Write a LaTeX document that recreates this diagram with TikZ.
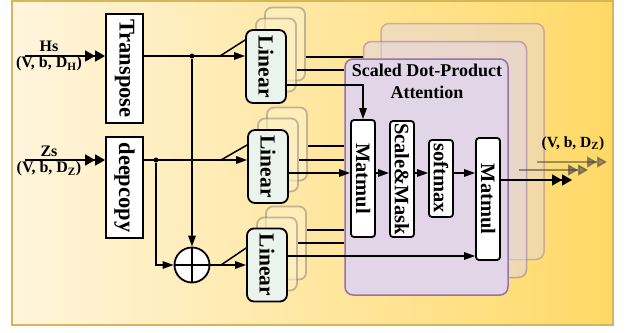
\documentclass[tikz,border=0pt]{standalone}
\usepackage{fontspec}
\setmainfont{Liberation Serif}
\usepackage{graphicx}
\usetikzlibrary{arrows.meta}

\definecolor{panelL}{HTML}{FFF5DE}
\definecolor{panelR}{HTML}{FFD966}
\definecolor{panelB}{HTML}{D6B656}
\definecolor{linfill}{HTML}{EAF3EC}
\definecolor{attfill}{HTML}{E1D5E7}
\definecolor{attdraw}{HTML}{9673A6}

\begin{document}
\begin{tikzpicture}[x=1pt,y=-1pt,
    line width=1.5pt,
    arr/.style={-{Triangle[length=11pt,width=7.5pt]}},
    dblarr/.style={-{Triangle[length=10pt,width=11pt]Triangle[length=10pt,width=11pt]}},
    whitebox/.style={draw, line width=1.8pt, fill=white, inner sep=0pt, minimum width=24pt, rounded corners=3pt, font=\bfseries\fontsize{20.5}{20.5}\selectfont},
    bigbox/.style={whitebox, rounded corners=0pt, minimum width=37pt, font=\bfseries\fontsize{22.5}{22.5}\selectfont},
    linbox/.style={draw, line width=1.8pt, fill=linfill, rounded corners=7pt, inner sep=0pt, minimum width=40pt, minimum height=73pt, font=\bfseries\fontsize{21.5}{21.5}\selectfont},
    linback/.style={draw=black!55, draw opacity=.45, line width=1.8pt, fill=white!60!panelR, fill opacity=.6, rounded corners=7pt, minimum width=40pt, minimum height=73pt},
    attbox/.style={draw=attdraw, line width=1.5pt, fill=attfill, rounded corners=8pt, minimum width=163pt, minimum height=236pt},
    lbl/.style={inner sep=0pt, font=\bfseries\fontsize{16}{16}\selectfont},
    dotn/.style={circle, fill=black, inner sep=0pt, minimum size=5pt}
    ]
\useasboundingbox (0,0) rectangle (628,332);
\shade[left color=panelL, right color=panelR, draw=panelB, line width=2pt] (12,1) rectangle (613,325);

% inputs
    \coordinate (hsin) at (25,56);
    \coordinate (zsin) at (25,160);
    \node[lbl] (hs) at (49,46) {Hs};
    \node[lbl] (hsdim) at (49,64) {(V, b, D\textsubscript{H})};
    \node[lbl] (zs) at (49,151) {Zs};
    \node[lbl] (zsdim) at (49,169) {(V, b, D\textsubscript{Z})};

    \node[bigbox, minimum height=109pt] (tr) at (124.5,68.5) {\rotatebox{-90}{Transpose}};
    \node[bigbox, minimum height=101pt] (dc) at (124.5,187.5) {\rotatebox{-90}{deepcopy}};
 \draw[dblarr] (hsin) -- (hsin -| tr.west);
 \draw[dblarr] (zsin) -- (zsin -| dc.west);

% attention heads
    \node[attbox, fill opacity=.45, draw opacity=.45] (att2) at (462.5,141.5) {};
    \node[attbox, fill opacity=.5, draw opacity=.55] (att1) at (445,159.5) {};
    \node[attbox] (att0) at (426.5,177) {};
    \node[align=center, font=\bfseries\fontsize{18}{22}\selectfont] (ttl) at (427,81) {Scaled Dot-Product\\Attention};

    \node[whitebox, minimum height=117pt] (m1) at (363,178.5) {\rotatebox{-90}{Matmul}};
    \node[whitebox, minimum height=116pt] (sm) at (402,179) {\rotatebox{-90}{Scale\&Mask}};
    \node[whitebox, minimum height=77pt] (sf) at (441,178.5) {\rotatebox{-90}{softmax}};
    \node[whitebox, minimum height=122pt] (m2) at (488,199) {\rotatebox{-90}{Matmul}};

% linear stacks
    \node[linback] (l1c) at (285,44) {};
    \node[linback] (l1b) at (276,55) {};
    \node[linbox] (l1) at (266,66.5) {\rotatebox{-90}{Linear}};
    \node[linback] (l2c) at (287,144) {};
    \node[linback] (l2b) at (278,155) {};
    \node[linbox] (l2) at (268,166.5) {\rotatebox{-90}{Linear}};
    \node[linback] (l3c) at (286,243) {};
    \node[linback] (l3b) at (277,254) {};
    \node[linbox] (l3) at (267,265) {\rotatebox{-90}{Linear}};

    \node[dotn] (d1) at (192,56) {};
    \node[dotn] (d2) at (156,160) {};
    \node[circle, draw, line width=1.8pt, fill=white, minimum size=35pt, inner sep=0pt] (plus) at (192,265) {};
 \draw (plus.north) -- (plus.south);
 \draw (plus.west) -- (plus.east);

    \coordinate (sp1) at (220,56);
    \coordinate (sp2) at (221,160);
    \coordinate (sp3) at (221,265);
 \draw[arr] (d1 -| tr.east) -- (d1 -| l1.west);
 \draw (sp1) -- (l1.west |- 0,40);
 \draw[arr] (d2 -| dc.east) -- (d2 -| l2.west);
 \draw (sp2) -- (l2.west |- 0,145);
 \draw[arr] (d1) -- (plus.north);
 \draw[arr] (d2) |- (plus.west);
 \draw[arr] (plus.east) -- (l3.west);
 \draw (sp3) -- (l3.west |- 0,248);

% into the heads
 \draw (l1c.east |- 0,57) -- (att1.west |- 0,57);
 \draw (l1b.east |- 0,70) -- (att0.west |- 0,70);
 \draw[arr] (l1.east |- 0,85) -| (m1.north);
 \draw (l2c.east |- 0,146) -- (att0.west |- 0,146);
 \draw (l2b.east |- 0,160) -- (att0.west |- 0,160);
 \draw[arr] (l2.east |- 0,173) -- (m1.west |- 0,173);
 \draw (l3c.east |- 0,230) -- (att0.west |- 0,230);
 \draw (l3b.east |- 0,243) -- (att0.west |- 0,243);
 \draw[arr] (l3.east |- 0,256) -- (m2.west |- 0,256);

 \draw[arr] (m1.east |- 0,173) -- (sm.west |- 0,173);
 \draw[arr] (sm.east |- 0,173) -- (sf.west |- 0,173);
 \draw[arr] (sf.east |- 0,173) -- (m2.west |- 0,173);

% outputs
    \coordinate (out0) at (572,180);
    \coordinate (out1) at (588,170);
    \coordinate (out2) at (607,162);
 \draw[dblarr, black!75, opacity=.5] ([xshift=10pt]att1.east |- out2) -- (out2);
 \draw[dblarr, black!75, opacity=.55] ([xshift=10pt]att0.east |- out1) -- (out1);
 \draw[dblarr] (m2.east |- out0) -- (out0);
    \node[lbl, font=\bfseries\fontsize{15.5}{16}\selectfont] (outlbl) at (573,144) {(V, b, D\textsubscript{Z})};

\end{tikzpicture}
\end{document}
